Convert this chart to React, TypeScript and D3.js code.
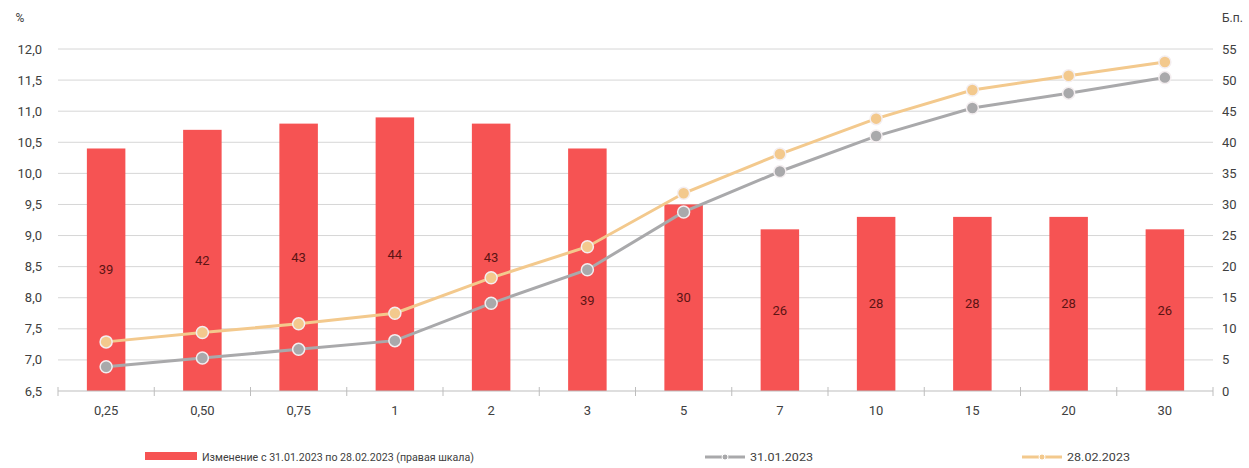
import React from "react";
import * as d3 from "d3";

const categories = ["0,25", "0,50", "0,75", "1", "2", "3", "5", "7", "10", "15", "20", "30"];
const changeBp = [39, 42, 43, 44, 43, 39, 30, 26, 28, 28, 28, 26];
const yield0131 = [6.89, 7.03, 7.17, 7.31, 7.91, 8.45, 9.38, 10.03, 10.6, 11.05, 11.29, 11.54];
const yield0228 = [7.29, 7.44, 7.58, 7.75, 8.32, 8.82, 9.68, 10.31, 10.88, 11.34, 11.57, 11.79];
const leftTicks = [6.5, 7, 7.5, 8, 8.5, 9, 9.5, 10, 10.5, 11, 11.5, 12];
const rightTicks = [0, 5, 10, 15, 20, 25, 30, 35, 40, 45, 50, 55];
const legendLabels = ["Изменение с 31.01.2023 по 28.02.2023 (правая шкала)", "31.01.2023", "28.02.2023"];

const W = 1249;
const H = 468;
const left = 58;
const right = 1213;
const top = 49;
const bottom = 391;

const BAR = "#f65353";
const GRAY = "#a9a9ab";
const ORANGE = "#f3c98d";
const FONT = "Roboto, 'Liberation Sans', sans-serif";

export default function App() {
  const x = d3.scaleBand<string>().domain(categories).range([left, right]).paddingInner(0).paddingOuter(0);
  const yL = d3.scaleLinear().domain([6.5, 12]).range([bottom, top]);
  const yR = d3.scaleLinear().domain([0, 55]).range([bottom, top]);
  const bw = x.bandwidth() * 0.4;
  const cx = (c: string) => (x(c) as number) + x.bandwidth() / 2;
  const fmt = d3.format(".1f");
  const line = d3
    .line<number>()
    .x((_, i) => cx(categories[i]))
    .y((d) => yL(d));

  const series = [
    { data: yield0131, color: GRAY },
    { data: yield0228, color: ORANGE },
  ];

  const boundaries = d3.range(categories.length + 1).map((i) => left + i * x.step());
  // label for the "3" bar is pushed below the lines, as in the original
  const labelY = (v: number, i: number) =>
    categories[i] === "3" ? yR(v * 0.375) : (yR(v) + yR(0)) / 2;

  return (
    <svg width={W} height={H} style={{ position: "absolute", left: 0, top: 0, background: "#fff" }} fontFamily={FONT}>
      <rect x={0} y={0} width={W} height={H} fill="#fff" />
      {leftTicks.slice(1).map((t) => (
        <line key={t} x1={left} x2={right} y1={yL(t)} y2={yL(t)} stroke="#d6d6d6" strokeWidth={1} />
      ))}
      {leftTicks.map((t) => (
        <text key={t} x={42} y={yL(t) + 4.5} textAnchor="end" fontSize={13} fill="#404040">
          {fmt(t).replace(".", ",")}
        </text>
      ))}
      <text x={20} y={22} textAnchor="middle" fontSize={12} fill="#404040">%</text>
      {rightTicks.map((t) => (
        <text key={t} x={1222} y={yR(t) + 4.5} textAnchor="start" fontSize={13} fill="#404040">
          {t}
        </text>
      ))}
      <text x={1222} y={22} textAnchor="start" fontSize={12} fill="#404040">Б.п.</text>
      {changeBp.map((v, i) => (
        <rect key={i} x={cx(categories[i]) - bw / 2} y={yR(v)} width={bw} height={yR(0) - yR(v)} fill={BAR} />
      ))}
      {changeBp.map((v, i) => (
        <text key={i} x={cx(categories[i])} y={labelY(v, i) + 4.5} textAnchor="middle" fontSize={13} fill="#5c1414">
          {v}
        </text>
      ))}
      <line x1={left} x2={right} y1={bottom} y2={bottom} stroke="#bdbdbd" strokeWidth={1} />
      {boundaries.map((b, i) => (
        <line key={i} x1={b} x2={b} y1={bottom - 4} y2={bottom + 5} stroke="#bdbdbd" strokeWidth={1} />
      ))}
      {categories.map((c) => (
        <text key={c} x={cx(c)} y={415} textAnchor="middle" fontSize={13} fill="#404040">
          {c}
        </text>
      ))}
      {series.map((s, k) => (
        <g key={k}>
          <path d={line(s.data) || ""} fill="none" stroke={s.color} strokeWidth={3} />
          {s.data.map((v, i) => (
            <circle key={i} cx={cx(categories[i])} cy={yL(v)} r={6} fill={s.color} stroke="#f4eef0" strokeWidth={1.5} />
          ))}
        </g>
      ))}
      <rect x={145} y={452} width={52} height={8} fill={BAR} />
      <text x={202} y={461} fontSize={11.5} fill="#404040" textLength={272} lengthAdjust="spacingAndGlyphs">{legendLabels[0]}</text>
      <line x1={705} x2={745} y1={457} y2={457} stroke={GRAY} strokeWidth={3} />
      <circle cx={725} cy={457} r={3} fill={GRAY} stroke="#fff" strokeWidth={1} />
      <text x={750} y={461} fontSize={11.5} fill="#404040" textLength={63} lengthAdjust="spacingAndGlyphs">{legendLabels[1]}</text>
      <line x1={1022} x2={1062} y1={457} y2={457} stroke={ORANGE} strokeWidth={3} />
      <circle cx={1042} cy={457} r={3} fill={ORANGE} stroke="#fff" strokeWidth={1} />
      <text x={1067} y={461} fontSize={11.5} fill="#404040" textLength={63} lengthAdjust="spacingAndGlyphs">{legendLabels[2]}</text>
    </svg>
  );
}
